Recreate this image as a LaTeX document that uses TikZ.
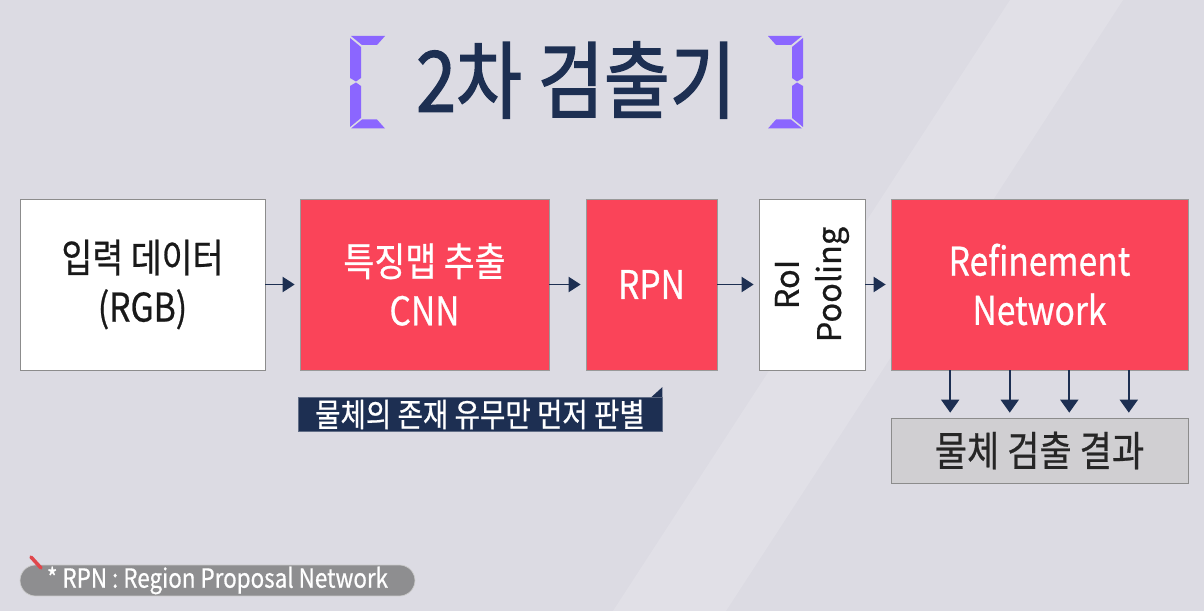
\documentclass[tikz,border=0pt]{standalone}
\usepackage{fontspec}
\setmainfont{Noto Sans CJK KR}[FakeStretch=0.85, FakeBold=0.6]
\newfontfamily\plainfont{Noto Sans CJK KR}[FakeBold=0.6]
\newfontfamily\titlefont{Noto Sans CJK KR}[FakeStretch=0.85, FakeBold=1.6]
\usetikzlibrary{arrows.meta, calc, positioning}
\definecolor{bgslide}{HTML}{DCDBE3}
\definecolor{bgband}{HTML}{E1E0E7}
\definecolor{boxred}{HTML}{FA4459}
\definecolor{navy}{HTML}{1D2F52}
\definecolor{bracketpurple}{HTML}{8B66FF}
\definecolor{resgray}{HTML}{D0CFD2}
\definecolor{pillgray}{HTML}{8E8E90}
\definecolor{tickred}{HTML}{E0474C}
\tikzset{
  % blocco bianco della pipeline
  wbox/.style={draw=black!45, fill=white, minimum height=3.42cm, align=center,
    font=\fontsize{22.5}{28}\selectfont, text=black!90},
  % blocco rosso della pipeline
  rbox/.style={wbox, draw=black!40, fill=boxred, text=white},
  % freccia tra i blocchi
  flow/.style={-{Triangle[length=2.4mm, width=3mm]}, line width=1.1pt, navy,
    shorten >=0.1cm},
  flowdown/.style={flow, -{Triangle[length=2.6mm, width=3.6mm]}},
  % riquadro del risultato
  resbox/.style={draw=black!45, fill=resgray, minimum width=5.94cm, minimum height=1.3cm,
    font=\fontsize{23.5}{28}\selectfont, text=black!85},
  % nota sotto la CNN
  memo/.style={fill=navy, draw=navy!70!white, minimum width=7.28cm, minimum height=0.68cm,
    inner sep=0pt, text=white, font=\fontsize{18.5}{22}\selectfont},
  % nota in basso a sinistra
  pill/.style={fill=pillgray, draw=black!20, rounded corners=0.31cm, minimum width=7.9cm,
    minimum height=0.62cm, inner sep=0pt, text=white, font=\fontsize{15}{18}\selectfont},
}

\begin{document}
\begin{tikzpicture}[x=0.02cm, y=-0.02cm]
  \newcommand{\titlebracket}[2]{%
    \begin{scope}[shift={(#1,0)}, xscale=#2]
      \fill[bracketpurple] (1,36) -- (35,36) -- (27,45) -- (12,45) -- cycle;
      \fill[bracketpurple] (0,38) -- (11,47) -- (11,78) -- (6,81.5) -- (0,78) -- cycle;
      \fill[bracketpurple] (0,86) -- (6,82.5) -- (11,86) -- (11,118) -- (0,127) -- cycle;
      \fill[bracketpurple] (1,128.5) -- (12,119.5) -- (27,119.5) -- (35,128.5) -- cycle;
    \end{scope}}
  % sfondo
  \fill[bgslide] (0,0) rectangle (1204,611);
  \fill[bgband] (1010,0) -- (1123,0) -- (726,611) -- (613,611) -- cycle;
  % titolo
  \titlebracket{350}{1}
  \titlebracket{803}{-1}
  \node[text=navy, font=\titlefont\fontsize{48}{54}\selectfont] (title) at (576,80) {2차 검출기};
  % pipeline
  \node[wbox, minimum width=4.9cm] (inp) at (142.5,284.5) {입력 데이터\\(RGB)};
  \node[rbox, minimum width=4.98cm] (cnn) at (424.5,284.5) {특징맵 추출\\CNN};
  \node[rbox, minimum width=2.62cm] (rpn) at (651.5,284.5) {RPN};
  \node[wbox, minimum width=2.12cm] (roi) at (812,284.5) {};
  \node[rotate=90, align=center, text=black!90, font=\plainfont\fontsize{18.5}{24}\selectfont]
    (roitxt) at (roi.center) {RoI\\Pooling};
  \node[rbox, minimum width=5.94cm] (ref) at (1039.5,284.5) {Refinement\\Network};
  \draw[flow] (inp) -- (cnn);
  \draw[flow] (cnn) -- (rpn);
  \draw[flow] (rpn) -- (roi);
  \draw[flow] (roi) -- (ref);
  % risultato
  \node[resbox] (res) at (1039.5,450.5) {물체 검출 결과};
  \foreach \f in {0.2,0.4,0.6,0.8}
    \draw[flowdown] ($(ref.south west)!\f!(ref.south east)$) -- ($(res.north west)!\f!(res.north east)$);
  % nota
  \node[memo] (memo) at (480,414.5) {물체의 존재 유무만 먼저 판별};
  \fill[navy] (memo.north east) -- ++(0,-10) -- ++(-11,10) -- cycle;
  \node[pill] (abbr) at (217.5,580.5) {* RPN : Region Proposal Network};
  \draw[tickred, line width=2pt, line cap=round] (31,557) -- (41,568);
\end{tikzpicture}
\end{document}
